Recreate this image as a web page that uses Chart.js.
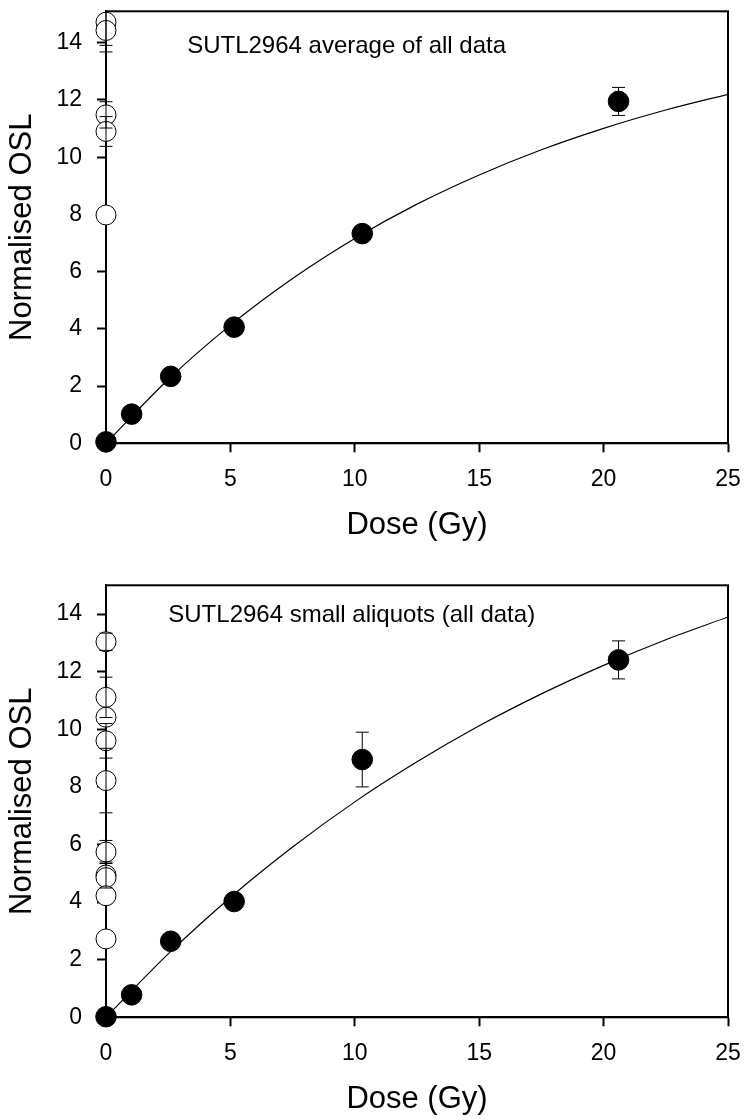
<!DOCTYPE html>
<html>
<head>
<meta charset="utf-8">
<script src="https://cdn.jsdelivr.net/npm/chart.js@4.4.1/dist/chart.umd.min.js"></script>
<style>
  body { margin: 0; background: #fff; }
  canvas { display: block; }
</style>
</head>
<body>
<canvas id="topChart" width="744" height="574"></canvas>
<canvas id="bottomChart" width="744" height="546"></canvas>
<script>
// Dose axis and OSL ticks
const xTicks = [0, 5, 10, 15, 20, 25];
const yTicks = [0, 2, 4, 6, 8, 10, 12, 14];

// Regenerated doses (filled circles)
const doses = [0, 1.03, 2.6, 5.15, 10.3, 20.6];

// Top panel: average of all data
const topFilled = [0.05, 1.02, 2.34, 4.06, 7.33, 11.95];
const topFilledErr = [0, 0, 0, 0, 0, 0.49];
const topOpen = [14.72, 14.43, 11.48, 10.9, 7.98];
const topOpenErr = [0.81, 0.75, 0.46, 0.52, 0];

// Bottom panel: small aliquots
const bottomFilled = [0.02, 0.78, 2.64, 4.02, 8.95, 12.41];
const bottomFilledErr = [0, 0, 0, 0, 0.95, 0.66];
const bottomOpen = [13.04, 11.11, 10.42, 9.6, 8.22, 5.74, 4.94, 4.85, 4.22, 2.72];
const bottomOpenErr = [0.3, 0.7, 0, 0.6, 1.12, 0.4, 0.45, 0, 0, 0];

// Fitted growth curves
const curveDose = [0, 2.5, 5, 7.5, 10, 12.5, 15, 17.5, 20, 22.5, 25];
const topCurve = [0, 2.23, 4.13, 5.76, 7.16, 8.36, 9.38, 10.26, 11.01, 11.65, 12.2];
const bottomCurve = [0, 2.2, 4.16, 5.91, 7.48, 8.87, 10.12, 11.23, 12.22, 13.11, 13.9];

const FONT = "'Liberation Sans', Arial, sans-serif";

// frame, error bars and the panel label
const annotate = {
  id: "annotate",
  beforeDatasetsDraw(chart) {
    const a = chart.chartArea;
    const ctx = chart.ctx;
    ctx.save();
    ctx.strokeStyle = "#000";
    ctx.lineWidth = 2;
    ctx.strokeRect(a.left, a.top, a.right - a.left, a.bottom - a.top);
    ctx.restore();
  },
  afterDatasetsDraw(chart, args, opts) {
    const a = chart.chartArea;
    const ctx = chart.ctx;
    const xs = chart.scales.x;
    const ys = chart.scales.y;
    ctx.save();
    ctx.beginPath();
    ctx.rect(a.left - 20, a.top, a.right - a.left + 40, a.bottom - a.top);
    ctx.clip();
    ctx.strokeStyle = "#000";
    ctx.lineWidth = 1;
    chart.data.datasets.forEach((ds) => {
      if (!ds.errors) return;
      ds.data.forEach((p, i) => {
        const e = ds.errors[i];
        if (!e) return;
        const px = xs.getPixelForValue(p.x);
        const y1 = ys.getPixelForValue(p.y + e);
        const y2 = ys.getPixelForValue(p.y - e);
        ctx.beginPath();
        ctx.moveTo(px, y1);
        ctx.lineTo(px, y2);
        ctx.moveTo(px - 6.5, y1);
        ctx.lineTo(px + 6.5, y1);
        ctx.moveTo(px - 6.5, y2);
        ctx.lineTo(px + 6.5, y2);
        ctx.stroke();
      });
    });
    ctx.restore();

    ctx.save();
    ctx.fillStyle = "#000";
    ctx.font = "24px " + FONT;
    ctx.textAlign = "center";
    ctx.textBaseline = "middle";
    ctx.fillText(opts.text, a.left + opts.dx, a.top + opts.dy);
    ctx.restore();
  },
};

function makeChart(id, opts) {
  const ctx = document.getElementById(id).getContext("2d");
  const H = ctx.canvas.height;
  const axisBottom = 443.3;

  return new Chart(ctx, {
    type: "scatter",
    data: {
      datasets: [
        {
          label: "fit",
          data: curveDose.map((x, i) => ({ x: x, y: opts.curve[i] })),
          showLine: true,
          cubicInterpolationMode: "monotone",
          borderColor: "#000",
          borderWidth: 1.2,
          pointRadius: 0,
          fill: false,
        },
        {
          label: "natural",
          data: opts.open.map((y) => ({ x: 0, y: y })),
          errors: opts.openErr,
          pointRadius: 10,
          pointBorderWidth: 1,
          pointBackgroundColor: "#fff",
          pointBorderColor: "#000",
          clip: false,
        },
        {
          label: "regenerated",
          data: doses.map((x, i) => ({ x: x, y: opts.filled[i] })),
          errors: opts.filledErr,
          pointRadius: 10.3,
          pointBorderWidth: 1,
          pointBackgroundColor: "#000",
          pointBorderColor: "#000",
          clip: false,
        },
      ],
    },
    options: {
      responsive: false,
      devicePixelRatio: 1,
      animation: false,
      events: [],
      layout: { padding: { top: opts.padTop, right: 16, left: 0, bottom: 0 } },
      plugins: {
        legend: { display: false },
        tooltip: { enabled: false },
        annotate: { text: opts.title, dx: opts.titleDx, dy: opts.titleDy },
      },
      scales: {
        x: {
          type: "linear",
          min: 0,
          max: 25,
          afterBuildTicks: (s) => {
            s.ticks = xTicks.map((v) => ({ value: v }));
          },
          afterFit: (s) => {
            s.height = H - axisBottom;
            s.paddingLeft = 0;
            s.paddingRight = 0;
          },
          grid: {
            drawOnChartArea: false,
            drawTicks: true,
            tickLength: 9,
            tickWidth: 2,
            tickColor: "#000",
            color: "#000",
          },
          border: { display: true, color: "#000", width: 2 },
          ticks: {
            color: "#000",
            font: { family: FONT, size: 23 },
            padding: 14,
            maxRotation: 0,
            autoSkip: false,
          },
          title: {
            display: true,
            text: "Dose (Gy)",
            color: "#000",
            font: { family: FONT, size: 31 },
            padding: { top: 0, bottom: opts.xTitlePad },
          },
        },
        y: {
          type: "linear",
          min: 0,
          max: opts.yMax,
          afterBuildTicks: (s) => {
            s.ticks = yTicks.map((v) => ({ value: v }));
          },
          afterFit: (s) => {
            s.width = 106;
            s.paddingTop = 0;
            s.paddingBottom = 0;
          },
          grid: {
            drawOnChartArea: false,
            drawTicks: true,
            tickLength: 9,
            tickWidth: 2,
            tickColor: "#000",
            color: "#000",
          },
          border: { display: true, color: "#000", width: 2 },
          ticks: {
            color: "#000",
            font: { family: FONT, size: 23 },
            padding: 15,
            autoSkip: false,
          },
          title: {
            display: true,
            text: "Normalised OSL",
            color: "#000",
            font: { family: FONT, size: 31 },
            padding: { top: 4, bottom: 0 },
          },
        },
      },
    },
    plugins: [annotate],
  });
}

makeChart("topChart", {
  curve: topCurve,
  filled: topFilled,
  filledErr: topFilledErr,
  open: topOpen,
  openErr: topOpenErr,
  yMax: 15.1,
  padTop: 9.3,
  xTitlePad: 30,
  title: "SUTL2964 average of all data",
  titleDx: 240.6,
  titleDy: 34.7,
});

makeChart("bottomChart", {
  curve: bottomCurve,
  filled: bottomFilled,
  filledErr: bottomFilledErr,
  open: bottomOpen,
  openErr: bottomOpenErr,
  yMax: 15,
  padTop: 8.7,
  xTitlePad: 2,
  title: "SUTL2964 small aliquots (all data)",
  titleDx: 245.7,
  titleDy: 30.3,
});
</script>
</body>
</html>
